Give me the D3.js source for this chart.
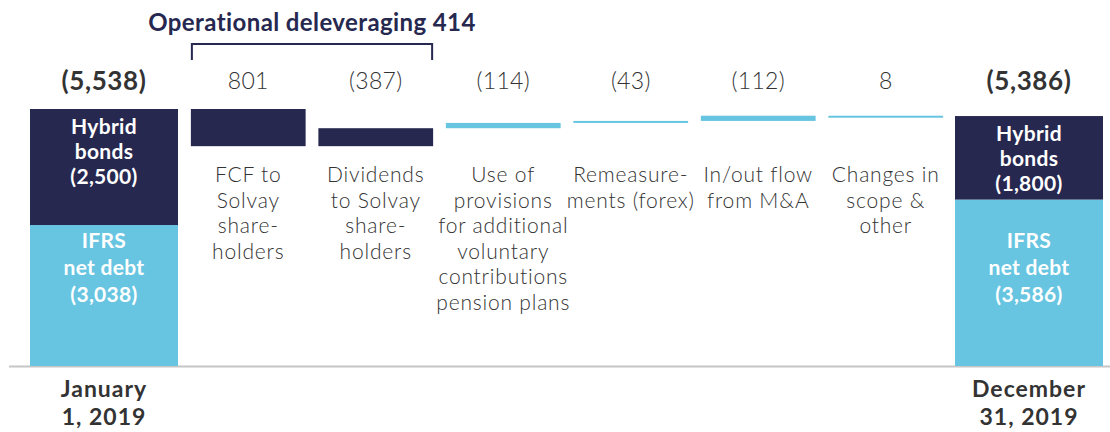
<!DOCTYPE html>
<html>
<head>
<meta charset="utf-8">
<script src="https://cdn.jsdelivr.net/npm/d3@7"></script>
<style>
  body { margin: 0; background: #fff; }
  svg { display: block; font-family: Lato, "Open Sans", sans-serif; }
</style>
</head>
<body>
<svg id="chart" width="1110" height="432"></svg>
<script>
// Net debt bridge, EUR m
const startTotal = 5538;
const startParts = [2500, 3038];   // hybrid bonds, IFRS net debt
const endTotal = 5386;
const endParts = [1800, 3586];

const steps = ["FCF", "Dividends", "Provisions", "Forex", "MA", "Scope"];
const stepValues = [801, -387, -114, -43, -112, 8];   // + reduces debt
const stepLabels = ["801", "(387)", "(114)", "(43)", "(112)", "8"];
const stepNames = [
  ["FCF to", "Solvay", "share-", "holders"],
  ["Dividends", "to Solvay", "share-", "holders"],
  ["Use of", "provisions", "for additional", "voluntary", "contributions", "pension plans"],
  ["Remeasure-", "ments (forex)"],
  ["In/out flow", "from M&A"],
  ["Changes in", "scope &", "other"]
];
const stepColors = ["dark", "dark", "light", "light", "light", "light"];

const navy = "#262850";
const blue = "#67c5e1";
const textGrey = "#333";

const svg = d3.select("#chart");

// scales
const y = d3.scaleLinear().domain([0, startTotal]).range([366, 109]);
const x = d3.scaleBand().domain(steps).range([184.5, 949.5])
  .paddingInner(0.1).paddingOuter(0.05);
const ends = d3.scaleOrdinal().domain(["start", "end"]).range([30, 955]);
const endWidth = 148;

// baseline
svg.append("line")
  .attr("x1", 9).attr("x2", 1110)
  .attr("y1", 366.5).attr("y2", 366.5)
  .attr("stroke", "#c6c6c6").attr("stroke-width", 2);

// stacked end bars
function endBar(key, parts, total, dateLines) {
  const x0 = ends(key);
  const cx = x0 + endWidth / 2;
  // IFRS at bottom, hybrid on top
  const ifrsTop = y(parts[1]);
  const top = y(total);
  svg.append("rect").attr("x", x0).attr("width", endWidth)
    .attr("y", ifrsTop).attr("height", y(0) - ifrsTop).attr("fill", blue);
  svg.append("rect").attr("x", x0).attr("width", endWidth)
    .attr("y", top).attr("height", ifrsTop - top).attr("fill", navy);

  const fmt = d3.format(",");
  const hyb = ["Hybrid", "bonds", "(" + fmt(parts[0]) + ")"];
  const ifrs = ["IFRS", "net debt", "(" + fmt(parts[1]) + ")"];
  hyb.forEach((t, i) => {
    svg.append("text").attr("x", cx).attr("y", top + 25 + i * 25)
      .attr("text-anchor", "middle").attr("fill", "#fff")
      .attr("font-size", 21).attr("font-weight", 700)
      .attr("letter-spacing", 0.3).text(t);
  });
  ifrs.forEach((t, i) => {
    svg.append("text").attr("x", cx).attr("y", y(0) - 118 + i * 27)
      .attr("text-anchor", "middle").attr("fill", "#fff")
      .attr("font-size", 21).attr("font-weight", 700)
      .attr("letter-spacing", 0.3).text(t);
  });

  svg.append("text").attr("x", cx).attr("y", 90)
    .attr("text-anchor", "middle").attr("fill", "#333")
    .attr("font-size", 26).attr("font-weight", 700)
    .attr("letter-spacing", 0.6)
    .text("(" + fmt(total) + ")");

  dateLines.forEach((t, i) => {
    svg.append("text").attr("x", cx).attr("y", 397 + i * 28)
      .attr("text-anchor", "middle").attr("fill", "#333")
      .attr("font-size", 23).attr("font-weight", 700)
      .attr("letter-spacing", 1).text(t);
  });
}

endBar("start", startParts, startTotal, ["January", "1, 2019"]);
endBar("end", endParts, endTotal, ["December", "31, 2019"]);

// floating step bars
let running = startTotal;
const stepData = steps.map((s, i) => {
  const from = running;
  running = running - stepValues[i];
  return { key: s, from: from, to: running, i: i };
});

svg.append("g").selectAll("rect")
  .data(stepData)
  .join("rect")
  .attr("x", d => x(d.key))
  .attr("width", x.bandwidth())
  .attr("y", d => y(Math.max(d.from, d.to)))
  .attr("height", d => Math.max(2, Math.abs(y(d.from) - y(d.to))))
  .attr("fill", d => stepColors[d.i] === "dark" ? navy : blue);

// value labels
svg.append("g").selectAll("text")
  .data(stepData)
  .join("text")
  .attr("x", d => x(d.key) + x.bandwidth() / 2)
  .attr("y", 89)
  .attr("text-anchor", "middle")
  .attr("fill", textGrey)
  .attr("font-size", 23)
  .attr("font-weight", 300)
  .attr("letter-spacing", 0.3)
  .text(d => stepLabels[d.i]);

// category labels
const cat = svg.append("g").selectAll("text")
  .data(stepData)
  .join("text")
  .attr("text-anchor", "middle")
  .attr("fill", textGrey)
  .attr("font-size", 21)
  .attr("font-weight", 300)
  .attr("letter-spacing", 0.8);
cat.selectAll("tspan")
  .data(d => stepNames[d.i].map(t => ({ t: t, cx: x(d.key) + x.bandwidth() / 2 })))
  .join("tspan")
  .attr("x", d => d.cx)
  .attr("y", (d, i) => 182 + i * 25.5)
  .text(d => d.t);

// operational deleveraging bracket
const bx0 = x("FCF") + 1;
const bx1 = x("Dividends") + x.bandwidth() - 1;
svg.append("path")
  .attr("d", `M${bx0},60V44H${bx1}V60`)
  .attr("fill", "none").attr("stroke", navy).attr("stroke-width", 2);

svg.append("text")
  .attr("x", (bx0 + bx1) / 2).attr("y", 31)
  .attr("text-anchor", "middle").attr("fill", navy)
  .attr("font-size", 24).attr("font-weight", 700)
  .attr("letter-spacing", 0.4)
  .text("Operational deleveraging " + (stepValues[0] + stepValues[1]));
</script>
</body>
</html>
